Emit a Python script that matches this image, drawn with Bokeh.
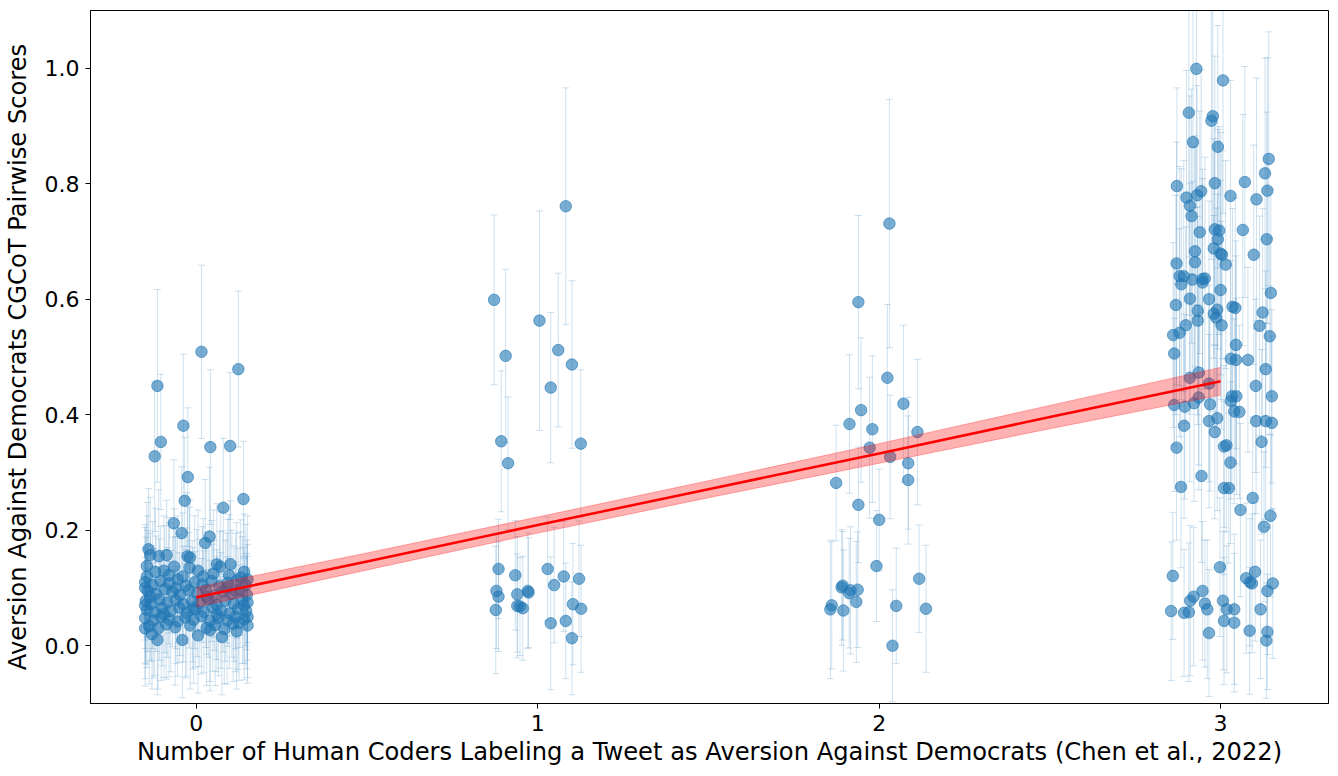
from bokeh.plotting import figure
from bokeh.models import ColumnDataSource, Whisker, TeeHead, FixedTicker, PrintfTickFormatter, Range1d
from bokeh.embed import file_html
from bokeh.resources import INLINE

# ---------------- data ----------------
# coders = 0 (jittered x, score, std error)
x0 = [0.015, 0.123, -0.114, -0.038, -0.104, 0.041, 0.099, -0.122, -0.025, 0.138, -0.034, 0.079, -0.066, -0.043, 0.039, 0.026,
      -0.140, -0.145, -0.135, -0.110, -0.087, -0.026, -0.019, 0.060, 0.070, 0.100, -0.065, -0.020, -0.120, -0.095, 0.140, 0.096, -0.040, 0.020,
      -0.150, -0.128, -0.105, -0.080, -0.055, -0.030, -0.005, 0.018, 0.045, 0.068, 0.092, 0.118, 0.145,
      -0.142, -0.118, -0.092, -0.070, -0.048, -0.022, 0.002, 0.028, 0.052, 0.078, 0.104, 0.128, 0.148,
      -0.148, -0.132, -0.108, -0.085, -0.060, -0.038, -0.012, 0.010, 0.035, 0.060, 0.085, 0.110, 0.135,
      -0.145, -0.122, -0.100, -0.075, -0.050, -0.028, -0.003, 0.022, 0.048, 0.072, 0.097, 0.122, 0.146,
      -0.150, -0.126, -0.103, -0.080, -0.055, -0.032, -0.008, 0.015, 0.040, 0.065, 0.090, 0.115, 0.140,
      -0.138, -0.112, -0.088, -0.062, -0.018, 0.030, 0.055, 0.082, 0.108, 0.150,
      -0.041, -0.114, -0.150, 0.118, 0.040, -0.130, 0.005, 0.075,
      -0.145, 0.130, 0.050, -0.080, 0.005, 0.115, -0.135, 0.030, -0.060, 0.090, 0.140, -0.010, 0.125, -0.095, 0.060, -0.150, -0.150, 0.150, 0.150, 0.150]
y0 = [0.509, 0.479, 0.450, 0.381, 0.353, 0.344, 0.346, 0.328, 0.292, 0.254, 0.251, 0.239, 0.212, 0.195, 0.189, 0.178,
      0.167, 0.138, 0.157, 0.155, 0.157, 0.155, 0.153, 0.141, 0.137, 0.141, 0.137, 0.135, 0.128, 0.130, 0.128, 0.122, 0.120, 0.120,
      0.110, 0.105, 0.112, 0.108, 0.115, 0.104, 0.110, 0.106, 0.112, 0.103, 0.109, 0.113, 0.105,
      0.095, 0.090, 0.098, 0.093, 0.088, 0.096, 0.091, 0.097, 0.087, 0.094, 0.090, 0.097, 0.088,
      0.078, 0.073, 0.080, 0.075, 0.079, 0.072, 0.077, 0.074, 0.080, 0.071, 0.078, 0.073, 0.079,
      0.062, 0.058, 0.065, 0.060, 0.066, 0.057, 0.063, 0.059, 0.066, 0.061, 0.056, 0.064, 0.060,
      0.048, 0.044, 0.050, 0.046, 0.042, 0.049, 0.045, 0.051, 0.043, 0.048, 0.044, 0.050, 0.046,
      0.034, 0.030, 0.037, 0.032, 0.035, 0.031, 0.036, 0.029, 0.038, 0.035,
      0.010, 0.010, 0.030, 0.025, 0.027, 0.020, 0.018, 0.015,
      0.120, 0.118, 0.125, 0.122, 0.130, 0.095, 0.085, 0.085, 0.100, 0.100, 0.070, 0.065, 0.040, 0.055, 0.055, 0.100, 0.070, 0.115, 0.075, 0.050]
e0 = [0.150, 0.135, 0.167, 0.124, 0.117, 0.134, 0.127, 0.130, 0.120, 0.100, 0.110, 0.120, 0.110, 0.115, 0.120, 0.110,
      0.105, 0.110, 0.100, 0.115, 0.095, 0.110, 0.100, 0.105, 0.095, 0.110, 0.100, 0.105, 0.110, 0.095, 0.100, 0.105, 0.110, 0.100,
      0.100, 0.110, 0.095, 0.105, 0.110, 0.100, 0.115, 0.100, 0.105, 0.095, 0.110, 0.100, 0.105,
      0.105, 0.100, 0.110, 0.095, 0.105, 0.100, 0.110, 0.100, 0.095, 0.105, 0.110, 0.100, 0.095,
      0.110, 0.100, 0.105, 0.095, 0.110, 0.100, 0.105, 0.110, 0.100, 0.095, 0.105, 0.100, 0.110,
      0.100, 0.110, 0.100, 0.105, 0.095, 0.110, 0.100, 0.105, 0.110, 0.100, 0.095, 0.105, 0.100,
      0.105, 0.100, 0.110, 0.100, 0.095, 0.105, 0.110, 0.100, 0.105, 0.100, 0.110, 0.095, 0.105,
      0.100, 0.105, 0.095, 0.100, 0.110, 0.100, 0.105, 0.095, 0.100, 0.100,
      0.100, 0.095, 0.100, 0.100, 0.105, 0.095, 0.100, 0.100,
      0.105, 0.100, 0.110, 0.100, 0.105, 0.100, 0.110, 0.100, 0.105, 0.095, 0.100, 0.105, 0.100, 0.110, 0.100, 0.105, 0.100, 0.110, 0.100, 0.105]

# coders = 1
x1 = [0.872, 0.906, 0.893, 0.913, 1.005, 1.038, 1.060, 1.082, 1.100, 1.126,
      0.885, 0.879, 0.885, 0.877, 0.934, 0.940, 0.940, 0.948, 0.956, 0.971,
      0.973, 1.029, 1.048, 1.038, 1.076, 1.082, 1.100, 1.103, 1.121, 1.127]
y1 = [0.599, 0.502, 0.354, 0.316, 0.563, 0.447, 0.512, 0.761, 0.487, 0.350,
      0.133, 0.095, 0.085, 0.062, 0.122, 0.089, 0.069, 0.068, 0.065, 0.095,
      0.092, 0.133, 0.105, 0.039, 0.120, 0.043, 0.013, 0.072, 0.116, 0.064]
e1 = [0.147, 0.150, 0.122, 0.115, 0.190, 0.130, 0.133, 0.205, 0.145, 0.128,
      0.086, 0.100, 0.095, 0.110, 0.095, 0.100, 0.090, 0.085, 0.090, 0.100,
      0.095, 0.090, 0.100, 0.115, 0.095, 0.100, 0.098, 0.105, 0.100, 0.110]

# coders = 2
x2 = [2.030, 1.939, 2.024, 2.071, 1.947, 1.913, 1.980, 2.112, 1.972, 2.032,
      2.085, 2.085, 1.874, 1.939, 2.000, 1.992, 2.117, 1.893, 1.890, 1.916,
      1.912, 1.937, 1.933, 1.861, 1.857, 1.895, 2.050, 2.137, 2.039]
y2 = [0.731, 0.595, 0.464, 0.419, 0.408, 0.384, 0.375, 0.370, 0.343, 0.327,
      0.316, 0.287, 0.282, 0.244, 0.218, 0.138, 0.116, 0.104, 0.101, 0.096,
      0.091, 0.097, 0.076, 0.070, 0.063, 0.061, 0.069, 0.064, 0.000]
e2 = [0.215, 0.150, 0.127, 0.136, 0.125, 0.120, 0.127, 0.126, 0.122, 0.107,
      0.114, 0.111, 0.100, 0.100, 0.088, 0.096, 0.093, 0.094, 0.100, 0.110,
      0.095, 0.100, 0.105, 0.110, 0.120, 0.105, 0.100, 0.110, 0.097]

# coders = 3
x3 = [2.929, 3.007, 2.907, 2.977, 2.973, 2.919, 2.992, 3.141, 3.130, 2.872,
      2.983, 3.071, 3.137, 2.943, 2.931, 2.900, 3.029, 3.105, 2.910, 2.915,
      2.983, 2.996, 2.939, 2.992, 3.065, 3.135, 2.980, 2.925, 3.000, 3.004,
      3.097, 2.925, 3.015, 2.871, 2.880, 2.892, 2.917, 2.947, 2.954, 2.947,
      2.885, 3.000, 3.147, 2.910, 2.966, 2.869, 2.933, 2.990, 3.035, 3.043,
      3.123, 2.980, 2.987, 2.933, 2.898, 3.003, 3.114, 2.861, 2.880, 3.144,
      3.045, 2.864, 3.030, 3.045, 3.080, 3.132, 2.936, 2.910, 2.966, 3.103,
      3.033, 3.046, 3.150, 2.936, 3.030, 2.864, 2.895, 2.922, 2.969, 3.040,
      3.055, 2.990, 2.966, 3.104, 3.132, 3.150, 2.893, 2.983, 3.120, 3.010,
      3.017, 2.871, 3.029, 2.944, 2.884, 3.010, 3.024, 3.094, 3.058, 3.146,
      3.127, 2.998, 2.860, 3.101, 3.075, 3.086, 3.092, 3.153, 2.947, 3.137,
      2.921, 2.911, 2.954, 3.007, 2.961, 3.018, 3.040, 3.117, 2.855, 2.893,
      2.907, 3.010, 3.040, 3.085, 3.137, 2.966, 3.134]
y3 = [0.999, 0.979, 0.923, 0.917, 0.909, 0.872, 0.864, 0.843, 0.818, 0.796,
      0.801, 0.803, 0.788, 0.787, 0.780, 0.776, 0.779, 0.773, 0.762, 0.744,
      0.721, 0.719, 0.716, 0.704, 0.720, 0.704, 0.688, 0.683, 0.679, 0.677,
      0.677, 0.664, 0.660, 0.662, 0.640, 0.640, 0.634, 0.635, 0.636, 0.629,
      0.626, 0.616, 0.611, 0.601, 0.600, 0.590, 0.580, 0.582, 0.587, 0.585,
      0.577, 0.575, 0.568, 0.563, 0.555, 0.555, 0.554, 0.538, 0.542, 0.536,
      0.521, 0.506, 0.497, 0.495, 0.495, 0.479, 0.473, 0.464, 0.454, 0.450,
      0.432, 0.432, 0.432, 0.430, 0.424, 0.417, 0.414, 0.420, 0.418, 0.406,
      0.405, 0.394, 0.389, 0.389, 0.389, 0.386, 0.381, 0.370, 0.353, 0.345,
      0.347, 0.343, 0.317, 0.294, 0.275, 0.273, 0.273, 0.256, 0.235, 0.225,
      0.206, 0.136, 0.121, 0.128, 0.117, 0.110, 0.108, 0.108, 0.095, 0.095,
      0.085, 0.078, 0.073, 0.078, 0.063, 0.063, 0.063, 0.063, 0.060, 0.057,
      0.058, 0.043, 0.040, 0.026, 0.024, 0.022, 0.009]
e3 = [0.24, 0.23, 0.25, 0.22, 0.24, 0.23, 0.21, 0.22, 0.20, 0.17,
      0.22, 0.20, 0.23, 0.21, 0.19, 0.22, 0.20, 0.21, 0.19, 0.22,
      0.20, 0.18, 0.21, 0.19, 0.20, 0.22, 0.19, 0.20, 0.21, 0.18,
      0.19, 0.20, 0.18, 0.21, 0.19, 0.20, 0.17, 0.19, 0.21, 0.18,
      0.20, 0.19, 0.18, 0.20, 0.17, 0.19, 0.18, 0.20, 0.17, 0.19,
      0.18, 0.17, 0.19, 0.18, 0.17, 0.18, 0.19, 0.16, 0.18, 0.17,
      0.18, 0.16, 0.17, 0.18, 0.16, 0.17, 0.16, 0.18, 0.17, 0.15,
      0.16, 0.17, 0.15, 0.16, 0.17, 0.15, 0.16, 0.17, 0.15, 0.16,
      0.15, 0.16, 0.15, 0.16, 0.17, 0.15, 0.16, 0.15, 0.16, 0.14,
      0.15, 0.16, 0.14, 0.15, 0.14, 0.15, 0.13, 0.14, 0.15, 0.14,
      0.13, 0.12, 0.11, 0.12, 0.13, 0.11, 0.12, 0.13, 0.12, 0.11,
      0.12, 0.13, 0.11, 0.12, 0.12, 0.11, 0.13, 0.12, 0.12, 0.11,
      0.12, 0.11, 0.12, 0.11, 0.10, 0.11, 0.10]

# regression fit and its confidence band
fit_x = [0.0, 0.5, 1.0, 1.5, 2.0, 2.5, 3.0]
fit_y = [0.084, 0.146, 0.209, 0.271, 0.333, 0.396, 0.458]
fit_hw = [0.017, 0.0147, 0.0139, 0.0147, 0.017, 0.0202, 0.024]

x_ticks = [0, 1, 2, 3]
y_ticks = [0.0, 0.2, 0.4, 0.6, 0.8, 1.0]
x_label = "Number of Human Coders Labeling a Tweet as Aversion Against Democrats (Chen et al., 2022)"
y_label = "Aversion Against Democrats CGCoT Pairwise Scores"

# ---------------- build ----------------
xs = x0 + x1 + x2 + x3
ys = y0 + y1 + y2 + y3
es = e0 + e1 + e2 + e3
src = ColumnDataSource(dict(x=xs, y=ys,
                            upper=[a + b for a, b in zip(ys, es)],
                            lower=[a - b for a, b in zip(ys, es)]))
fit_src = ColumnDataSource(dict(x=fit_x, y=fit_y,
                                lo=[a - b for a, b in zip(fit_y, fit_hw)],
                                hi=[a + b for a, b in zip(fit_y, fit_hw)]))

BLUE = "#1f77b4"
FONT = "DejaVu Sans"

p = figure(width=1330, height=770, output_backend="svg", toolbar_location=None,
           x_range=Range1d(-0.31, 3.316), y_range=Range1d(-0.1, 1.1),
           min_border_left=88, min_border_right=2, min_border_top=10, min_border_bottom=67)

wh = Whisker(source=src, base="x", upper="upper", lower="lower", dimension="height",
             line_color=BLUE, line_alpha=0.22, line_width=1, level="underlay",
             upper_head=TeeHead(size=7, line_color=BLUE, line_alpha=0.22, line_width=1),
             lower_head=TeeHead(size=7, line_color=BLUE, line_alpha=0.22, line_width=1))
p.add_layout(wh)

p.scatter("x", "y", source=src, size=11.5, fill_color=BLUE, fill_alpha=0.6,
          line_color=BLUE, line_alpha=0.6, line_width=1)

p.varea(x="x", y1="lo", y2="hi", source=fit_src, fill_color="red", fill_alpha=0.3)
p.line(x="x", y="lo", source=fit_src, line_color="red", line_alpha=0.3, line_width=1)
p.line(x="x", y="hi", source=fit_src, line_color="red", line_alpha=0.3, line_width=1)
p.line(x="x", y="y", source=fit_src, line_color="red", line_width=2.5)

p.xgrid.visible = False
p.ygrid.visible = False
p.outline_line_color = "black"
p.outline_line_alpha = 1
p.outline_line_width = 1

p.xaxis.ticker = FixedTicker(ticks=x_ticks)
p.yaxis.ticker = FixedTicker(ticks=y_ticks)
p.yaxis.formatter = PrintfTickFormatter(format="%.1f")
p.xaxis.axis_label = x_label
p.yaxis.axis_label = y_label
for ax in (p.xaxis, p.yaxis):
    ax.axis_line_color = "black"
    ax.major_tick_line_color = "black"
    ax.major_tick_out = 5
    ax.major_tick_in = 0
    ax.minor_tick_out = 0
    ax.minor_tick_in = 0
    ax.major_label_text_font = FONT
    ax.major_label_text_font_size = "22px"
    ax.major_label_text_color = "black"
    ax.axis_label_text_font = FONT
    ax.axis_label_text_font_size = "24.2px"
    ax.axis_label_text_font_style = "normal"
    ax.axis_label_text_color = "black"
    ax.major_label_standoff = 6
p.xaxis.axis_label_standoff = 4
p.yaxis.axis_label_standoff = 10

open("out.html", "w").write(file_html(p, INLINE))
